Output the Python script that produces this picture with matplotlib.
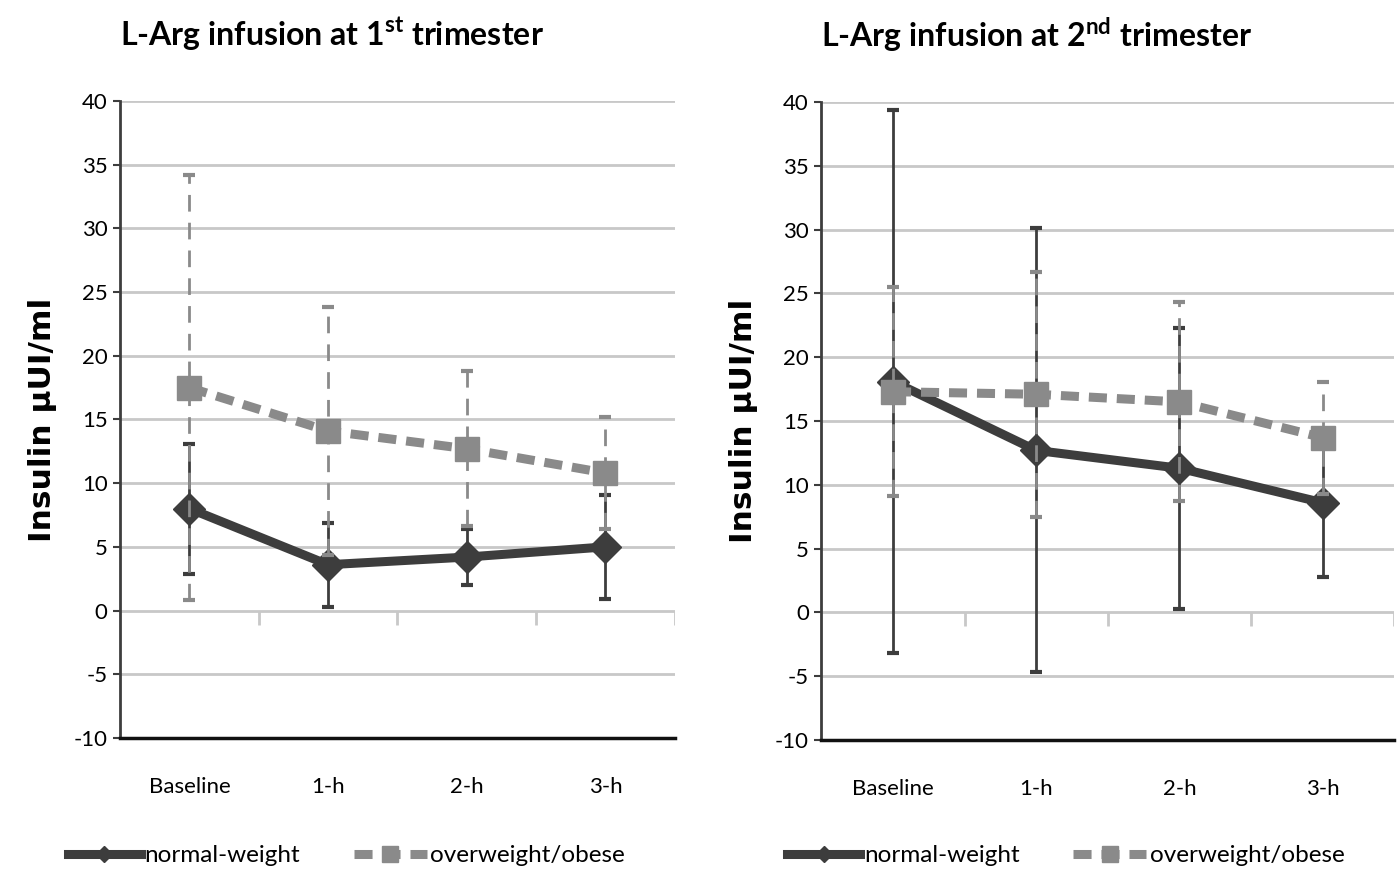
import matplotlib
matplotlib.use("Agg")
import matplotlib.pyplot as plt
from matplotlib.lines import Line2D
import numpy as np

plt.rcParams["axes.unicode_minus"] = False
plt.rcParams["mathtext.fontset"] = "custom"
plt.rcParams["mathtext.rm"] = "Lato:bold"
NARROW = ["Lato", "DejaVu Sans"]

categories = ["Baseline", "1-h", "2-h", "3-h"]

# 1st trimester
t1_normal = [8.0, 3.6, 4.2, 5.0]
t1_normal_sd = [5.1, 3.3, 2.2, 4.1]
t1_over = [17.5, 14.1, 12.7, 10.8]
t1_over_sd = [16.7, 9.7, 6.1, 4.4]

# 2nd trimester
t2_normal = [18.1, 12.7, 11.3, 8.6]
t2_normal_sd = [21.3, 17.4, 11.0, 5.8]
t2_over = [17.3, 17.1, 16.5, 13.7]
t2_over_sd = [8.2, 9.6, 7.8, 4.4]

panels = [
    ("L-Arg infusion at 1$^{\\mathregular{st}}$ trimester", t1_normal, t1_normal_sd, t1_over, t1_over_sd),
    ("L-Arg infusion at 2$^{\\mathregular{nd}}$ trimester", t2_normal, t2_normal_sd, t2_over, t2_over_sd),
]

dark = "#3d3d3d"
grey = "#8a8a8a"
dash = (0, (2.0, 1.1))

fig = plt.figure(figsize=(13.97, 8.75), dpi=100)
rects = [[0.086, 0.1566, 0.397, 0.728], [0.588, 0.1543, 0.410, 0.729]]
legend_x = [0.248, 0.763]

for rect, lx, (title, nw, nw_sd, ow, ow_sd) in zip(rects, legend_x, panels):
    ax = fig.add_axes(rect)
    x = np.arange(len(categories))

    # normal-weight
    ax.errorbar(x, nw, yerr=nw_sd, fmt="none", ecolor=dark, elinewidth=2,
                capsize=4, capthick=3, zorder=3)
    ax.plot(x, nw, color=dark, lw=6.5, marker="D", ms=16, mfc=dark, mec=dark, zorder=4)

    # overweight/obese
    eb2 = ax.errorbar(x, ow, yerr=ow_sd, fmt="none", ecolor=grey, elinewidth=2,
                      capsize=4, capthick=3, zorder=5)
    eb2[2][0].set_linestyle((0, (6, 4)))
    ax.plot(x, ow, color=grey, lw=6.5, ls=dash, marker="s", ms=17,
            mfc=grey, mec=grey, zorder=6)

    ax.set_xlim(-0.5, 3.5)
    ax.set_ylim(-10, 40)
    ax.set_yticks(np.arange(-10, 41, 5))
    ax.set_xticks(x)
    ax.set_xticklabels(categories, family=NARROW, fontsize=16)
    ax.tick_params(axis="x", length=0, pad=28)
    ax.tick_params(axis="y", length=5, width=1.5, color=dark, labelsize=16, pad=4)
    for lab in ax.get_yticklabels():
        lab.set_family(NARROW)

    for yv in np.arange(-5, 41, 5):
        ax.axhline(yv, color="#c8c8c8", lw=2, zorder=1)
    # category boundary ticks hanging below zero line
    ax.vlines(np.arange(0.5, 4, 1), -1.1, 0, color="#c8c8c8", lw=2, zorder=1)

    for s in ["top", "right"]:
        ax.spines[s].set_visible(False)
    ax.spines["left"].set_color(dark)
    ax.spines["left"].set_linewidth(2)
    ax.spines["bottom"].set_color("#111111")
    ax.spines["bottom"].set_linewidth(2.5)

    ax.set_ylabel("Insulin \u00b5UI/ml", fontsize=22.5, fontweight="bold", family="DejaVu Sans",
                  labelpad=12)
    ax.set_title(title, family=NARROW, fontsize=23, fontweight="bold", pad=40, loc="left",
                 x=0.0)

    handles = [
        Line2D([], [], color=dark, lw=6.5, marker="D", ms=8, mfc=dark, mec=dark),
        Line2D([], [], color=grey, lw=6.5, ls=dash, marker="s", ms=12, mfc=grey, mec=grey),
    ]
    fig.legend(handles, ["normal-weight", "overweight/obese"], loc="center",
               bbox_to_anchor=(lx, 0.022), ncol=2, frameon=False, handlelength=3,
               columnspacing=2.2, handletextpad=0.15, prop={"family": NARROW, "size": 17.5})

fig.savefig("out.png", dpi=100)
